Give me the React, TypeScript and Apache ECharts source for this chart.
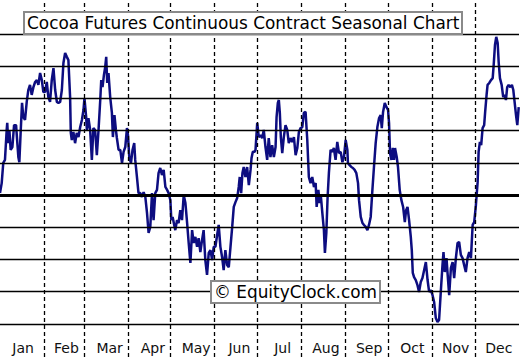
import React, { useEffect, useRef } from "react";
import * as echarts from "echarts";

const chartTitle = "Cocoa Futures Continuous Contract Seasonal Chart";
const watermark = "© EquityClock.com";
const months = ["Jan", "Feb", "Mar", "Apr", "May", "Jun", "Jul", "Aug", "Sep", "Oct", "Nov", "Dec"];
const monthLengths = [31, 28, 31, 30, 31, 30, 31, 31, 30, 31, 30, 31];
const gridLevels = [-4, -3, -2, -1, 0, 1, 2, 3, 4, 5];

// [day of year, seasonal level]
const seasonalPoints: [number, number][] = [
  [0, 0.06], [1.2, 0.37], [2.3, 1.0], [3.5, 1.09], [4.7, 2.02], [5.1, 2.24], [5.8, 1.61], [6.6, 2.02], [7.5, 1.4], [8.7, 1.49],
  [9.9, 2.17], [11.3, 2.17], [12.2, 1.61], [12.9, 1.18], [13.6, 1.02], [14.6, 2.02], [15.5, 2.86], [16.4, 2.42], [17.6, 2.33], [18.8, 2.89],
  [19.9, 3.26], [21.1, 3.42], [22.3, 3.11], [23.5, 3.35], [24.7, 3.51], [25.9, 3.57], [27.0, 3.42], [28.2, 3.79], [29.4, 3.57], [30.5, 3.2],
  [31.7, 3.2], [32.9, 3.51], [34.0, 3.04], [35.2, 2.89], [36.4, 3.57], [37.6, 3.94], [38.8, 3.26], [40.0, 2.89], [41.1, 2.86], [42.3, 2.89],
  [43.5, 3.26], [44.6, 4.1], [45.8, 4.41], [47.0, 4.29], [48.1, 4.19], [49.3, 3.04], [49.8, 1.93], [50.5, 1.71], [51.6, 1.96], [52.8, 1.61],
  [54.0, 1.93], [55.2, 1.8], [56.4, 2.11], [57.6, 2.33], [58.7, 2.64], [59.4, 3.01], [60.6, 2.42], [61.1, 2.02], [62.2, 2.39], [63.4, 2.02],
  [64.6, 1.09], [65.7, 2.08], [66.9, 2.02], [68.1, 1.24], [69.3, 2.02], [70.5, 2.95], [71.2, 3.57], [72.1, 3.35], [73.1, 3.73], [74.0, 3.98],
  [74.7, 4.29], [75.4, 3.48], [76.3, 3.79], [77.5, 3.04], [78.7, 2.55], [79.4, 1.8], [80.5, 2.48], [81.5, 2.02], [82.2, 1.77], [83.4, 1.4],
  [84.6, 1.4], [85.8, 0.99], [86.9, 1.34], [88.1, 1.49], [89.3, 2.08], [90.0, 1.86], [90.9, 1.18], [92.1, 0.99], [93.2, 1.4], [94.4, 1.61],
  [95.1, 1.09], [96.3, 0.56], [97.4, 0.06], [98.6, 0.06], [99.8, -0.06], [101.0, 0.09], [102.2, -0.06], [103.4, -0.56], [104.5, -1.18], [105.7, -0.99],
  [106.9, 0.06], [108.0, -0.78], [109.2, 0.06], [110.4, 0.16], [111.5, 0.68], [112.7, 0.84], [113.9, 0.62], [115.1, 0.78], [116.3, 0.25], [117.5, 0.16],
  [118.6, 0.06], [119.8, -0.16], [120.5, -0.78], [121.4, -0.68], [122.8, -0.99], [123.3, -1.09], [124.5, -0.78], [125.6, -0.87], [126.8, -0.47], [128.0, -0.78],
  [129.2, 0.0], [130.4, -0.25], [131.6, -0.87], [132.7, -1.49], [133.9, -2.11], [135.1, -1.09], [136.2, -1.49], [137.4, -1.3], [138.6, -1.61], [139.7, -1.34],
  [140.9, -1.77], [142.1, -1.4], [143.2, -1.09], [144.4, -2.02], [145.6, -2.48], [146.8, -1.8], [148.0, -1.71], [149.2, -2.02], [150.3, -1.61], [151.5, -1.61],
  [152.7, -1.24], [153.8, -0.93], [155.0, -1.61], [156.2, -1.93], [157.3, -2.33], [158.5, -1.71], [159.7, -2.17], [160.9, -2.24], [162.1, -1.61], [163.3, -0.99],
  [164.4, -0.37], [165.6, -0.22], [166.8, -0.09], [167.9, 0.25], [168.6, 0.56], [169.6, 0.06], [170.5, 0.68], [171.4, 0.87], [172.6, 0.56], [173.8, 0.87],
  [175.0, 0.31], [176.2, 0.78], [176.9, 1.15], [177.8, 1.34], [179.0, 1.34], [179.7, 1.4], [180.9, 2.24], [182.0, 1.8], [183.2, 1.86], [184.4, 1.77],
  [185.5, 2.02], [186.7, 1.49], [187.9, 1.09], [189.0, 1.77], [190.2, 1.18], [191.4, 1.55], [192.6, 1.18], [193.8, 1.49], [194.5, 2.42], [195.4, 2.86],
  [196.1, 2.95], [196.8, 2.55], [197.5, 1.8], [198.5, 1.3], [199.6, 1.8], [200.8, 2.17], [202.0, 2.02], [203.1, 1.61], [204.3, 1.77], [205.5, 1.65],
  [206.7, 1.8], [207.9, 1.24], [209.1, 1.46], [210.2, 1.96], [211.4, 2.08], [212.6, 2.11], [213.7, 2.55], [214.9, 2.58], [216.1, 1.71], [217.2, 0.56],
  [218.4, 0.37], [219.6, 0.56], [220.8, 0.25], [222.0, 0.37], [222.7, -0.37], [223.9, 0.16], [224.8, -0.25], [225.7, -0.06], [226.7, -0.56], [227.8, -1.09],
  [228.5, -1.8], [229.5, -1.18], [230.4, -0.06], [231.3, 0.68], [232.5, 1.4], [233.7, 1.34], [234.8, 1.46], [236.0, 1.09], [237.2, 1.65], [238.4, 1.3],
  [239.6, 1.34], [240.8, 1.02], [241.9, 1.18], [243.1, 1.71], [244.3, 1.4], [244.7, 0.99], [245.9, 0.93], [247.1, 0.87], [248.2, 0.84], [249.4, 0.78],
  [250.6, 0.68], [251.8, 0.37], [252.5, -0.16], [253.7, -0.68], [254.9, -0.87], [256.0, -0.93], [257.2, -0.99], [258.4, -1.09], [259.5, -0.93], [260.7, -0.68],
  [261.9, 0.16], [263.0, 0.87], [264.2, 1.61], [265.4, 2.11], [266.6, 2.39], [267.7, 2.48], [268.5, 2.08], [269.4, 2.58], [270.6, 2.86], [271.8, 2.73],
  [272.9, 2.64], [273.6, 2.24], [274.3, 1.3], [275.3, 1.09], [276.2, 1.46], [277.1, 1.09], [277.8, 1.46], [279.0, 1.18], [279.9, 0.87], [281.1, 0.16],
  [282.3, -0.16], [283.5, -0.37], [284.7, -0.84], [285.6, -0.47], [286.6, -0.37], [287.7, -0.78], [288.9, -1.3], [289.6, -1.71], [290.3, -2.42], [291.2, -2.55],
  [292.4, -2.64], [293.6, -2.8], [294.7, -3.01], [295.9, -2.7], [297.1, -2.58], [298.3, -2.33], [299.5, -2.08], [300.7, -2.64], [301.8, -3.01], [303.0, -2.95],
  [304.2, -3.11], [305.3, -3.32], [306.5, -3.82], [307.7, -3.94], [308.8, -3.88], [310.0, -3.01], [311.2, -2.17], [311.9, -1.77], [312.8, -2.39], [314.0, -1.96],
  [315.0, -2.58], [315.9, -3.11], [317.1, -2.27], [318.3, -2.08], [319.4, -2.58], [320.6, -1.96], [321.8, -1.49], [322.9, -1.46], [324.1, -1.86], [325.3, -1.96],
  [326.4, -2.17], [327.6, -2.39], [328.8, -1.96], [330.0, -1.77], [331.2, -1.96], [332.4, -0.93], [333.5, -0.84], [334.7, -0.31], [335.9, 0.4], [336.6, 1.34],
  [337.5, 1.65], [338.4, 1.55], [339.4, 2.08], [340.5, 2.17], [341.2, 2.58], [342.2, 3.11], [342.9, 3.42], [344.1, 3.48], [345.3, 3.57], [346.5, 3.63],
  [347.2, 4.04], [348.1, 4.66], [349.0, 4.91], [350.0, 4.72], [350.7, 4.13], [351.6, 3.63], [352.8, 3.42], [353.9, 3.04], [354.9, 3.11], [355.8, 2.95],
  [356.7, 3.35], [357.7, 3.42], [358.9, 3.35], [360.0, 3.42], [361.0, 3.26], [361.9, 2.89], [362.9, 2.48], [363.8, 2.17], [364.8, 2.73],
];

const FONT = "DejaVu Sans";

export default function App() {
  const ref = useRef<HTMLDivElement>(null);

  useEffect(() => {
    if (!ref.current) return;
    const chart = echarts.init(ref.current, null, { renderer: "svg" });

    const boundaries: number[] = [];
    let acc = 0;
    for (let i = 0; i < monthLengths.length - 1; i++) {
      acc += monthLengths[i];
      boundaries.push(acc);
    }
    const yearDays = monthLengths.reduce((a, b) => a + b, 0);

    const boxTitle = (text: string, left: number, top: number) => ({
      text,
      left,
      top,
      padding: [1, 3, 1, 3],
      backgroundColor: "#ffffff",
      borderColor: "#8a8a8a",
      borderWidth: 2,
      textStyle: {
        fontFamily: FONT,
        fontSize: 16.9,
        fontWeight: "normal",
        color: "#000000",
        lineHeight: 20,
      },
    });

    chart.setOption({
      animation: false,
      backgroundColor: "#ffffff",
      title: [boxTitle(chartTitle, 24, 12), boxTitle(watermark, 211, 281)],
      grid: { left: 0, right: 1, top: 0, bottom: 0 },
      xAxis: [
        { type: "value", min: 0, max: yearDays, show: false },
        {
          type: "category",
          data: months,
          position: "bottom",
          axisLine: { show: false },
          axisTick: { show: false },
          splitLine: { show: false },
          axisLabel: {
            inside: true,
            margin: 2,
            fontFamily: FONT,
            fontSize: 14,
            color: "#111111",
            padding: [0, 0, 0, 3],
          },
        },
      ],
      yAxis: { type: "value", min: -5.03, max: 6.056, show: false },
      series: [
        {
          type: "line",
          data: [],
          xAxisIndex: 0,
          silent: true,
          z: 1,
          markLine: {
            silent: true,
            symbol: ["none", "none"],
            label: { show: false },
            data: [
              ...gridLevels.map((v) => ({
                yAxis: v,
                lineStyle: { color: "#000000", width: v === 0 ? 3 : 1.4, type: "solid" },
              })),
              ...boundaries.map((d) => ({
                xAxis: d,
                lineStyle: { color: "#000000", width: 1.3, type: [4, 3] },
              })),
            ],
          },
        },
        {
          type: "line",
          data: seasonalPoints,
          xAxisIndex: 0,
          symbol: "none",
          z: 3,
          lineStyle: { color: "#0d0d80", width: 2.5 },
        },
      ],
    });

    return () => chart.dispose();
  }, []);

  return (
    <div
      ref={ref}
      style={{ position: "absolute", left: 0, top: 0, width: 520, height: 357 }}
    />
  );
}
